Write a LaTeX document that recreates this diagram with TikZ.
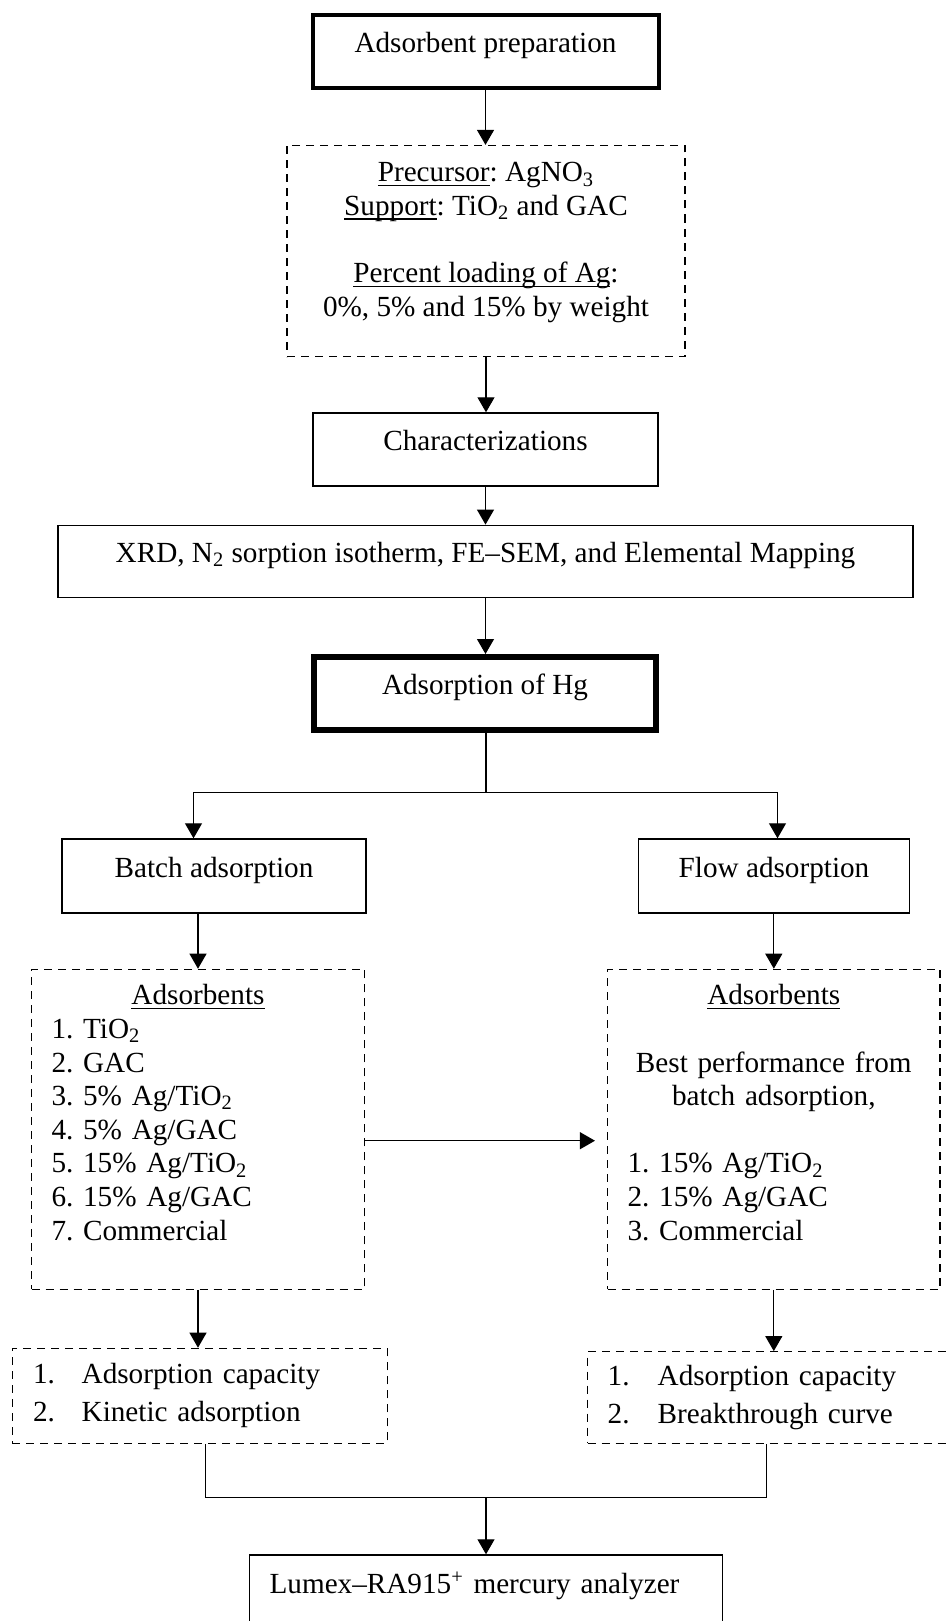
\documentclass[tikz,border=0pt]{standalone}
\usepackage{fontspec}
\setmainfont{Liberation Serif}
\usepackage{tikz}
\usetikzlibrary{arrows.meta}
\frenchspacing

% underline at a fixed depth, as a word processor does
\newcommand{\ulword}[1]{\setbox0\hbox{#1}\rlap{\rule[-2pt]{\wd0}{0.6pt}}\box0}
% extra depth on the last line, lifts the text block
\newcommand{\lift}[1]{\rule[-#1]{0pt}{0pt}}

\begin{document}
\begin{tikzpicture}[
  x=0.5pt, y=-0.5pt,
  font=\fontsize{14.6}{16.8}\selectfont,
  >={Triangle[length=7.5pt,width=8.5pt]},
  box/.style={draw, line width=0.7pt, inner sep=0pt, text height=10pt, text depth=9pt},
  thickbox/.style={box, line width=2pt},
  heavybox/.style={box, line width=3pt},
  dashbox/.style={draw, line width=0.6pt, dash pattern=on 4pt off 3pt, inner xsep=10pt, inner ysep=0pt},
  arrow/.style={->, line width=0.55pt},
  link/.style={line width=0.55pt}
]
  \useasboundingbox (0,0) rectangle (948,1621);
  \clip (0,0) rectangle (948,1621);

  % Preparation and characterization column
  \node[thickbox, minimum width=173pt, minimum height=36.5pt] (prep) at (485.5,51.5) {Adsorbent preparation};

  \node[dashbox, minimum width=199pt, minimum height=105.5pt, align=center] (prepd) at (486,251) {
    \ulword{Precursor}: AgNO\textsubscript{3}\\
    \ulword{Support}: TiO\textsubscript{2} and GAC\\[16.8pt]
    \ulword{Percent loading of Ag}:\\
    0\%, 5\% and 15\% by weight\lift{11.5pt}
  };

  \node[box, minimum width=172.5pt, minimum height=36.5pt] (char) at (485.5,449.5) {Characterizations};

  \node[box, minimum width=427.5pt, minimum height=36pt] (xrd) at (485.5,561.3)
    {XRD, N\textsubscript{2} sorption isotherm, FE--SEM, and Elemental Mapping};

  \node[heavybox, minimum width=171pt, minimum height=36.5pt] (hg) at (485,693.5) {Adsorption of Hg};

  \coordinate (split) at (486,792.7);

  % Batch and flow branches
  \node[box, minimum width=152pt, minimum height=37pt] (batch) at (214,876) {Batch adsorption};
  \node[box, minimum width=135.75pt, minimum height=37pt] (flow) at (774,876) {Flow adsorption};

  \node[dashbox, minimum width=166.5pt, minimum height=160pt, text width=146.5pt, align=left] (badsorb) at (198,1129.3) {
    \makebox[\hsize]{\ulword{Adsorbents}}\\
    1. TiO\textsubscript{2}\\
    2. GAC\\
    3. 5\% Ag/TiO\textsubscript{2}\\
    4. 5\% Ag/GAC\\
    5. 15\% Ag/TiO\textsubscript{2}\\
    6. 15\% Ag/GAC\\
    7. Commercial\lift{17pt}
  };

  \node[dashbox, minimum width=166.25pt, minimum height=160pt, text width=146.25pt, align=left] (fadsorb) at (773.8,1129.3) {
    \makebox[\hsize]{\ulword{Adsorbents}}\\[16.8pt]
    \makebox[\hsize]{Best performance from}\\
    \makebox[\hsize]{batch adsorption,}\\[16.8pt]
    1. 15\% Ag/TiO\textsubscript{2}\\
    2. 15\% Ag/GAC\\
    3. Commercial\lift{17pt}
  };

  \node[dashbox, inner xsep=10.5pt, minimum width=187.5pt, minimum height=47.5pt, text width=166.5pt, align=left] (bres) at (199.6,1395.8) {
    \makebox[24.3pt][l]{1.}Adsorption capacity\\[2.2pt]
    \makebox[24.3pt][l]{2.}Kinetic adsorption
  };

  \node[dashbox, minimum width=182.15pt, minimum height=45.8pt, text width=162.15pt, align=left] (fres) at (769.85,1397.5) {
    \makebox[25pt][l]{1.}Adsorption capacity\\[2.2pt]
    \makebox[25pt][l]{2.}Breakthrough curve
  };

  \coordinate (merge) at (486,1497.3);

  \node[box, inner xsep=10pt, minimum width=236.5pt, minimum height=37.5pt, text width=216.5pt, align=left] (lumex) at (486.1,1592.5)
    {Lumex--RA915\textsuperscript{+} mercury analyzer};

  % Connectors
  \draw[arrow] (prep.south) -- (prep.south |- prepd.north);
  \draw[arrow] (prepd.south) -- (prepd.south |- char.north);
  \draw[arrow] (char.south) -- (char.south |- xrd.north);
  \draw[arrow] (xrd.south) -- (xrd.south |- hg.north);

  \draw[link] (hg.south -| split) -- (split);
  \draw[arrow] (split) -| ([xshift=-10.25pt]batch.north);
  \draw[arrow] (split) -| ([xshift=1.75pt]flow.north);

  \draw[arrow] (batch.south -| badsorb.north) -- (badsorb.north);
  \draw[arrow] (flow.south -| fadsorb.north) -- (fadsorb.north);
  \draw[arrow, shorten >=6pt] ([yshift=-5.7pt]badsorb.east) -- ([yshift=-5.7pt]fadsorb.west);

  \draw[arrow] (badsorb.south) -- (badsorb.south |- bres.north);
  \draw[arrow] (fadsorb.south) -- (fadsorb.south |- fres.north);

  \draw[link] ([xshift=3pt]bres.south) |- (merge) -| ([xshift=-1.6pt]fres.south);
  \draw[arrow] (merge) -- (merge |- lumex.north);

\end{tikzpicture}
\end{document}
